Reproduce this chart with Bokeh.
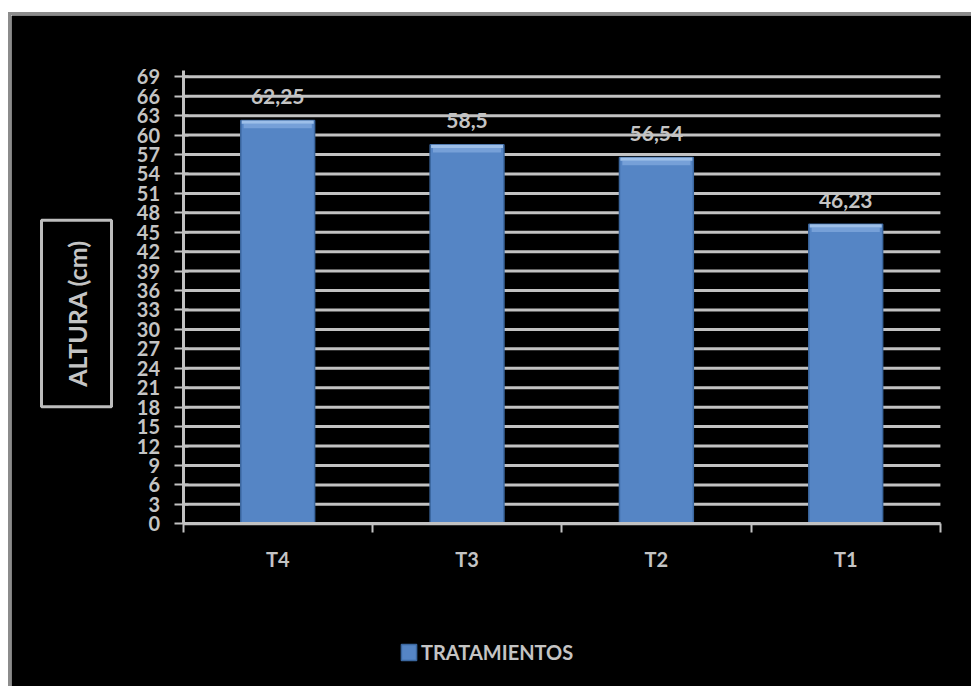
import math
from bokeh.plotting import figure
from bokeh.models import Range1d, FixedTicker, Label
from bokeh.core.properties import value
from bokeh.embed import file_html
from bokeh.resources import INLINE

# ---- data ----
categories = ["T4", "T3", "T2", "T1"]
alturas = [62.25, 58.5, 56.54, 46.23]
y_ticks = list(range(0, 70, 3))
series_name = "TRATAMIENTOS"
y_title = "ALTURA (cm)"

n = len(categories)
xs = [i + 0.5 for i in range(n)]
bounds = list(range(n + 1))
labels = [f"{v:g}".replace(".", ",") for v in alturas]

FONT = "Lato"
TXT = "#c4c4c4"
GRID = "#c2c2c2"

# ---- layout (pixels in the page) ----
OX, OY = 11, 15            # canvas origin inside the page
CW, CH = 960, 671          # canvas size
PL, PR, PT, PB = 182, 937, 76, 521   # plot area: x of 0 / x of end, y of top tick / y of 0
YMAX = y_ticks[-1]

xu = (PR - PL) / n
yu = (PB - PT) / YMAX
x_start = -(PL - OX) / xu
x_end = n + (OX + CW - PR) / xu
y_start = -(OY + CH - PB) / yu
y_end = YMAX + (PT - OY) / yu

p = figure(width=CW, height=CH, output_backend="svg", toolbar_location=None,
           x_range=Range1d(x_start, x_end), y_range=Range1d(y_start, y_end),
           min_border=0, min_border_left=0, min_border_right=0,
           min_border_top=0, min_border_bottom=0,
           background_fill_color="black", border_fill_color="black",
           outline_line_color=None, margin=(12, 0, 0, 8),
           styles={"border-left": "3px solid #8c8c8c", "border-top": "3px solid #8c8c8c",
                   "box-sizing": "content-box"})

# grid lines limited to the plot area
p.xgrid.grid_line_color = None
p.ygrid.grid_line_color = None
p.segment(x0=[0] * len(y_ticks), x1=[n] * len(y_ticks), y0=y_ticks, y1=y_ticks,
          line_color=GRID, line_width=3)

# y axis
p.yaxis.fixed_location = 0
p.yaxis.bounds = (0, YMAX + 1)
p.yaxis.ticker = FixedTicker(ticks=y_ticks)
p.yaxis.axis_line_color = GRID
p.yaxis.axis_line_width = 3
p.yaxis.major_tick_line_color = GRID
p.yaxis.major_tick_line_width = 2
p.yaxis.major_tick_out = 9
p.yaxis.major_tick_in = 5
p.yaxis.minor_tick_line_color = None
p.yaxis.major_label_standoff = 14
p.yaxis.major_label_text_color = TXT
p.yaxis.major_label_text_font = FONT
p.yaxis.major_label_text_font_style = "bold"
p.yaxis.major_label_text_font_size = "20px"

# x axis
p.xaxis.fixed_location = 0
p.xaxis.bounds = (0, n)
p.xaxis.ticker = FixedTicker(ticks=xs, minor_ticks=bounds)
p.xaxis.major_label_overrides = {x: c for x, c in zip(xs, categories)}
p.xaxis.axis_line_color = GRID
p.xaxis.axis_line_width = 3
p.xaxis.major_tick_line_color = None
p.xaxis.major_tick_out = 0
p.xaxis.major_tick_in = 0
p.xaxis.minor_tick_line_color = GRID
p.xaxis.minor_tick_line_width = 2
p.xaxis.minor_tick_out = 9
p.xaxis.minor_tick_in = 0
p.xaxis.major_label_standoff = 14
p.xaxis.major_label_text_color = TXT
p.xaxis.major_label_text_font = FONT
p.xaxis.major_label_text_font_style = "bold"
p.xaxis.major_label_text_font_size = "20px"

# bars with a light bevel on top
p.vbar(x=xs, top=alturas, width=0.39, fill_color="#5585c5",
       line_color="#3b679f", line_width=1.5, legend_label=series_name)
p.vbar(x=xs, bottom=[v - 1.2 for v in alturas], top=[v - 0.5 for v in alturas],
       width=0.36, fill_color="#76a0d8", line_color=None)
p.vbar(x=xs, bottom=[v - 0.5 for v in alturas], top=alturas, width=0.38,
       fill_color="#9dbfe9", line_color=None)

# value labels
p.text(x=xs, y=alturas, text=labels, text_align="center", text_baseline="middle",
       y_offset=-24, text_color=TXT, text_font=value(FONT), text_font_style="bold",
       text_font_size="21px")

# boxed y title
p.add_layout(Label(x=76 - OX, y=OY + CH - 310, x_units="screen", y_units="screen",
                   text=y_title, angle=math.pi / 2, text_align="center",
                   text_baseline="middle", text_color=TXT, text_font=FONT,
                   text_font_style="bold", text_font_size="25px",
                   border_line_color="#bdbdbd", border_line_width=3,
                   background_fill_color="black", padding=20))

# legend
lg = p.legend[0]
lg.location = (399 - OX, OY + CH - 661)
lg.margin = 0
lg.padding = 0
lg.border_line_color = None
lg.background_fill_color = "black"
lg.glyph_width = 19
lg.glyph_height = 20
lg.label_height = 20
lg.label_standoff = 3
lg.label_text_color = TXT
lg.label_text_font = FONT
lg.label_text_font_style = "bold"
lg.label_text_font_size = "20px"

open("out.html", "w").write(file_html(p, INLINE))
